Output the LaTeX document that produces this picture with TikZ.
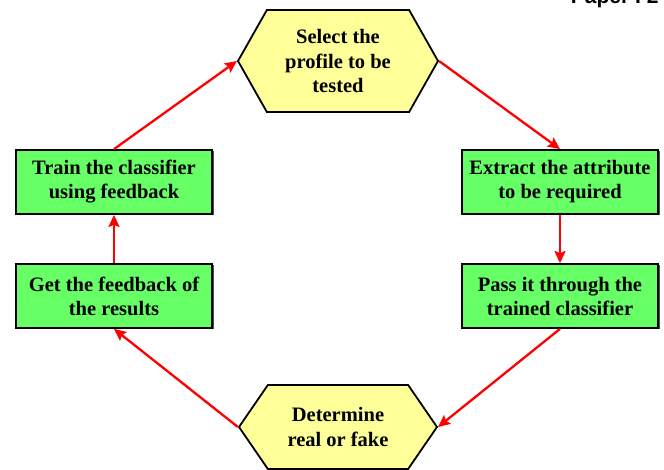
\documentclass[tikz,border=0pt]{standalone}
\usepackage{fontspec}
\setmainfont{Liberation Serif}
\newfontfamily\headfont{Liberation Sans}
\usetikzlibrary{shapes.symbols,arrows.meta,shadows}
\definecolor{boxgreen}{RGB}{102,255,102}
\definecolor{hexyellow}{RGB}{255,255,153}
\definecolor{flowred}{RGB}{255,0,0}
\tikzset{
  stepbox/.style={draw=black, line width=1.8pt, fill=boxgreen,
    minimum width=196pt, minimum height=64pt, inner sep=0pt,
    align=center, font=\bfseries\fontsize{20.5}{24}\selectfont,
    drop shadow={shadow xshift=1.5pt, shadow yshift=-1.5pt, fill=black!70, opacity=1}},
  hexbox/.style={draw=black, line width=1.8pt, fill=hexyellow, shape=signal,
    signal to=west and east, line join=miter, inner sep=0pt,
    align=center, font=\bfseries\fontsize{20.5}{24.5}\selectfont},
  flow/.style={draw=flowred, line width=2.3pt,
    -{Stealth[length=12pt,width=11pt,inset=2pt]}}
}
\begin{document}
\begin{tikzpicture}[x=1pt,y=1pt]
\useasboundingbox (0,0) rectangle (664,-470);

\node[hexbox, minimum width=200pt, minimum height=102pt, signal pointer angle=121]
  (select) at (338,-61) {Select the\\profile to be\\tested};
\node[hexbox, minimum width=198pt, minimum height=84pt, signal pointer angle=111]
  (decide) at (338,-427) {Determine\\real or fake};

\node[stepbox] (train)   at (114,-182) {Train the classifier\\using feedback};
\node[stepbox] (getfb)   at (114,-296) {Get the feedback of\\the results};
\node[stepbox] (extract) at (560,-182) {Extract the attribute\\to be required};
\node[stepbox] (pass)    at (560,-296) {Pass it through the\\trained classifier};

% page header, partly above the top edge
\node[anchor=base east, font=\headfont\bfseries\fontsize{21}{24}\selectfont]
  (page) at (662,-4) {Paper I 2};

\draw[flow] (train.north)   -- (select.west);
\draw[flow] (select.east)   -- (extract.north);
\draw[flow] (extract.south) -- (pass.north);
\draw[flow] (pass.south)    -- (decide.east);
\draw[flow] (decide.west)   -- (getfb.south);
\draw[flow] (getfb.north)   -- (train.south);
\end{tikzpicture}
\end{document}
